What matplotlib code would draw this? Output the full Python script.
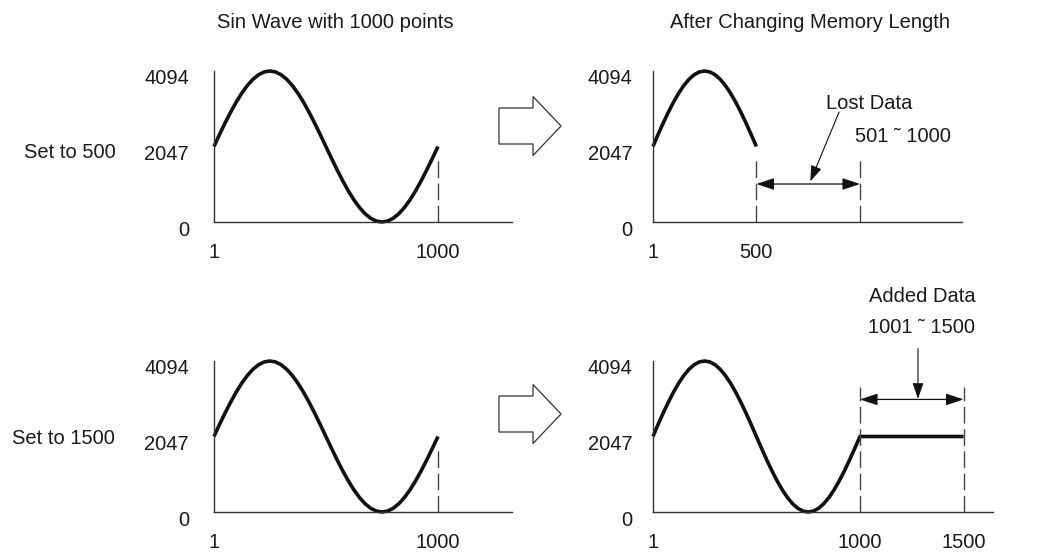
import matplotlib
matplotlib.use("Agg")
import matplotlib.pyplot as plt
from matplotlib.patches import FancyArrow
from matplotlib.transforms import ScaledTranslation

plt.rcParams['font.family'] = ['Liberation Sans', 'DejaVu Sans']

W, H = 1054, 552
TXT = "#1a1a1a"
FS = 14.5

# sine wave samples (index 1..1000, 12-bit values)
wave_x = [1, 25, 50, 75, 100, 125, 150, 175, 200, 225, 250,
          275, 300, 325, 350, 375, 400, 425, 450, 475, 500,
          525, 550, 575, 600, 625, 650, 675, 700, 725, 750,
          775, 800, 825, 850, 875, 900, 925, 950, 975, 1000]
wave_y = [2047, 2367, 2680, 2976, 3250, 3494, 3703, 3871, 3994, 4069, 4094,
          4069, 3994, 3871, 3703, 3494, 3250, 2976, 2680, 2367, 2047,
          1727, 1414, 1118, 844, 600, 391, 223, 100, 25, 0,
          25, 100, 223, 391, 600, 844, 1118, 1414, 1727, 2047]
# part kept when length set to 500
kept_x = wave_x[:21]
kept_y = wave_y[:21]
# data added when length set to 1500
added_x = [1000, 1500]
added_y = [2047, 2047]

y_ticks = [0, 2047, 4094]
y_labels = ["0", "2047", "4094"]

titles = ["Sin Wave with 1000 points", "After Changing Memory Length"]
row_labels = ["Set to 500", "Set to 1500"]

fig = plt.figure(figsize=(W / 100, H / 100), dpi=100)


def box(l, t, r, b):
    return [l / W, 1 - b / H, (r - l) / W, (b - t) / H]


def setup(ax, xmax, xticks, xlabels, ypad):
    ax.set_xlim(1, xmax)
    ax.set_ylim(0, 4094)
    for s in ["top", "right"]:
        ax.spines[s].set_visible(False)
    for s in ["left", "bottom"]:
        ax.spines[s].set_color("#333333")
        ax.spines[s].set_linewidth(1.0)
    ax.set_xticks(xticks, labels=xlabels)
    ax.set_yticks(y_ticks, labels=y_labels)
    ax.tick_params(axis="x", length=0, pad=15, labelsize=FS, labelcolor=TXT)
    ax.tick_params(axis="y", length=0, pad=ypad, labelsize=FS, labelcolor=TXT)
    off = ScaledTranslation(0, -6 / 100, fig.dpi_scale_trans)
    for lbl in ax.get_yticklabels():
        lbl.set_transform(lbl.get_transform() + off)
    ax.patch.set_visible(False)


def dashed(ax, x, top):
    ax.vlines(x, 0, top, colors="#444444", linewidth=1.0,
              linestyles=(0, (12, 4)))


def hollow_arrow(yc):
    # outline arrow between the columns, given in pixels
    x0, x1 = 499, 561
    fig.add_artist(FancyArrow(x0 / W, 1 - yc / H, (x1 - x0) / W, 0,
                              width=36 / H, head_width=59 / H,
                              head_length=28 / W, length_includes_head=True,
                              transform=fig.transFigure, facecolor="white",
                              edgecolor="#333333", linewidth=0.9))


line_kw = dict(color="#111111", linewidth=2.6, solid_capstyle="butt",
               solid_joinstyle="round", clip_on=False)

# top left
ax1 = fig.add_axes(box(214, 71, 512, 222))
setup(ax1, 1330, [1, 1000], ["1", "1000"], 18)
ax1.plot(wave_x, wave_y, **line_kw)
dashed(ax1, 1000, 1700)

# top right
ax2 = fig.add_axes(box(653, 71, 962, 222))
setup(ax2, 1492, [1, 500], ["1", "500"], 15)
ax2.plot(kept_x, kept_y, **line_kw)
dashed(ax2, [500, 1000], 1700)
ax2.annotate("", xy=(500, 1030), xytext=(1000, 1030),
             arrowprops=dict(arrowstyle="<|-|>,head_length=0.9,head_width=0.3",
                             color="#111111", lw=0.9, shrinkA=0, shrinkB=0,
                             mutation_scale=12))
ax2.text(1043, 3226, "Lost Data", ha="center", va="center",
         fontsize=FS, color=TXT)
ax2.text(976, 2305, "501 \u02dc 1000", ha="left", va="center",
         fontsize=FS, color=TXT)
ax2.annotate("", xy=(760, 1100), xytext=(899, 2982),
             arrowprops=dict(arrowstyle="-|>,head_length=0.8,head_width=0.28",
                             color="#111111", lw=0.8, shrinkA=0, shrinkB=0,
                             mutation_scale=12))

# bottom left
ax3 = fig.add_axes(box(214, 361, 512, 512))
setup(ax3, 1330, [1, 1000], ["1", "1000"], 18)
ax3.plot(wave_x, wave_y, **line_kw)
dashed(ax3, 1000, 1700)

# bottom right
ax4 = fig.add_axes(box(653, 361, 993, 512))
setup(ax4, 1642, [1, 1000, 1500], ["1", "1000", "1500"], 15)
ax4.plot(wave_x + added_x, wave_y + added_y, **line_kw)
dashed(ax4, [1000, 1500], 3400)
ax4.annotate("", xy=(1000, 3052), xytext=(1500, 3052),
             arrowprops=dict(arrowstyle="<|-|>,head_length=0.9,head_width=0.3",
                             color="#111111", lw=0.9, shrinkA=0, shrinkB=0,
                             mutation_scale=12))
ax4.text(1299, 5833, "Added Data", ha="center", va="center",
         fontsize=FS, color=TXT)
ax4.text(1299, 4996, "1001 \u02dc 1500", ha="center", va="center",
         fontsize=FS, color=TXT)
ax4.annotate("", xy=(1280, 3070), xytext=(1280, 4429),
             arrowprops=dict(arrowstyle="-|>,head_length=0.8,head_width=0.28",
                             color="#111111", lw=0.8, shrinkA=0, shrinkB=0,
                             mutation_scale=12))

# column titles and row labels
fig.text(335 / W, 1 - 23 / H, titles[0], ha="center", va="center",
         fontsize=FS, color=TXT)
fig.text(810 / W, 1 - 23 / H, titles[1], ha="center", va="center",
         fontsize=FS, color=TXT)
fig.text(70 / W, 1 - 152 / H, row_labels[0], ha="center", va="center",
         fontsize=FS, color=TXT)
fig.text(63 / W, 1 - 439 / H, row_labels[1], ha="center", va="center",
         fontsize=FS, color=TXT)

hollow_arrow(126)
hollow_arrow(414)

fig.savefig("out.png", dpi=100, facecolor="white")
